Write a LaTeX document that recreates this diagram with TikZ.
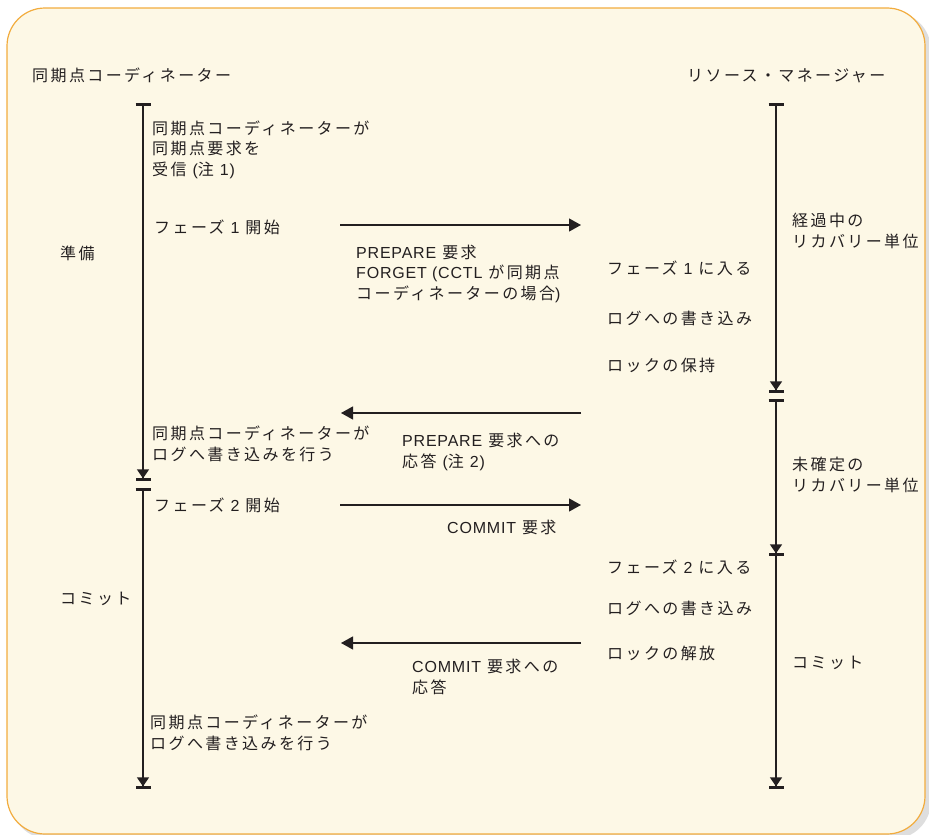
\documentclass[tikz,border=0pt]{standalone}
\usepackage{fontspec}
\setmainfont{Noto Sans CJK JP}[LetterSpace=15]
\newfontfamily\latn{Liberation Sans}[LetterSpace=5]
\usetikzlibrary{arrows.meta}
\definecolor{panelfill}{RGB}{253,248,230}
\definecolor{paneledge}{RGB}{242,172,62}
\definecolor{panelshadow}{RGB}{222,222,222}
\definecolor{ink}{RGB}{35,31,32}
\tikzset{
  lbl/.style={anchor=base west, inner sep=0pt, align=left, text=ink, font=\fontsize{16}{20.5}\selectfont},
  life/.style={draw=ink, line width=1.2pt},
  lifeend/.style={life, -{Triangle[length=9pt,width=12pt,sep=0pt] Bar[width=15pt,line width=2.6pt]}},
  lifeboth/.style={life, {Bar[width=15pt,line width=2.6pt]}-{Triangle[length=9pt,width=12pt,sep=0pt] Bar[width=15pt,line width=2.6pt]}},
  msg/.style={draw=ink, line width=1.2pt, -{Triangle[length=12pt,width=13pt]}}
}

\begin{document}
\begin{tikzpicture}[x=1pt, y=-1pt]
\useasboundingbox (0,0) rectangle (929,835);
\fill[panelshadow, rounded corners=38pt] (11,12) rectangle (931,839);
\draw[paneledge, fill=panelfill, line width=1.2pt, rounded corners=38pt] (7,8) rectangle (925,834);

\node[lbl] (hsc) at (32,81) {同期点コーディネーター};
\node[lbl] (hrm) at (687,81) {リソース・マネージャー};

\coordinate (sc1s) at (143,103);
\coordinate (sc1e) at (143,481);
\coordinate (sc2s) at (143,488);
\coordinate (sc2e) at (143,789);
\coordinate (rm1s) at (776,103);
\coordinate (rm1e) at (776,393);
\coordinate (rm2s) at (776,399);
\coordinate (rm2e) at (776,556);
\coordinate (rm3e) at (776,789);

\draw[lifeboth] (sc1s) -- (sc1e);
\draw[lifeboth] (sc2s) -- (sc2e);
\draw[lifeboth] (rm1s) -- (rm1e);
\draw[lifeboth] (rm2s) -- (rm2e);
\draw[lifeend] (rm2e) -- (rm3e);

\coordinate (c1a) at (340,225);
\coordinate (r1a) at (581,225);
\coordinate (r2a) at (581,413);
\coordinate (c2a) at (341,413);
\coordinate (c3a) at (340,505);
\coordinate (r3a) at (581,505);
\coordinate (r4a) at (581,643);
\coordinate (c4a) at (341,643);

\draw[msg] (c1a) -- (r1a);
\draw[msg] (r2a) -- (c2a);
\draw[msg] (c3a) -- (r3a);
\draw[msg] (r4a) -- (c4a);

% multi-line labels sit on the baseline of their last line
\node[lbl] (screcv) at (152,175) {同期点コーディネーターが\\同期点要求を\\受信 {\latn(}注 {\latn 1)}};
\node[lbl] (ph1) at (154,233) {フェーズ {\latn 1} 開始};
\node[lbl] (prep) at (60,259) {準備};
\node[lbl] (m1lbl) at (356,299) {{\latn PREPARE} 要求\\{\latn FORGET (CCTL} が同期点\\コーディネーターの場合{\latn )}};
\node[lbl] (rmenter1) at (607,274) {フェーズ {\latn 1} に入る};
\node[lbl] (rmlog1) at (607,324) {ログへの書き込み};
\node[lbl] (rmlock1) at (607,371) {ロックの保持};
\node[lbl] (inflight) at (792,247) {経過中の\\リカバリー単位};

\node[lbl] (sclog1) at (152,460) {同期点コーディネーターが\\ログへ書き込みを行う};
\node[lbl] (m2lbl) at (402,467) {{\latn PREPARE} 要求への\\応答 {\latn(}注 {\latn 2)}};
\node[lbl] (indoubt) at (792,491) {未確定の\\リカバリー単位};
\node[lbl] (ph2) at (154,511) {フェーズ {\latn 2} 開始};
\node[lbl] (m3lbl) at (447,533) {{\latn COMMIT} 要求};

\node[lbl] (rmenter2) at (607,573) {フェーズ {\latn 2} に入る};
\node[lbl] (commitl) at (60,604) {コミット};
\node[lbl] (rmlog2) at (607,614) {ログへの書き込み};
\node[lbl] (rmlock2) at (607,659) {ロックの解放};
\node[lbl] (commitr) at (792,668) {コミット};
\node[lbl] (m4lbl) at (412,693) {{\latn COMMIT} 要求への\\応答};
\node[lbl] (sclog2) at (150,749) {同期点コーディネーターが\\ログへ書き込みを行う};
\end{tikzpicture}
\end{document}
